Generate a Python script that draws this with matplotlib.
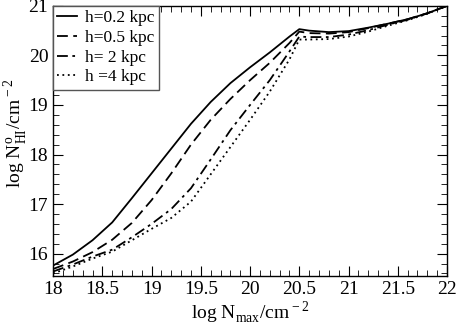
import numpy as np
import matplotlib.pyplot as plt
from matplotlib.ticker import MultipleLocator, FormatStrFormatter

plt.rcParams['font.family'] = ['Liberation Serif', 'DejaVu Serif']
plt.rcParams['mathtext.fontset'] = 'custom'
plt.rcParams['mathtext.rm'] = 'Liberation Serif'

# log N_max values
x = [18.0, 18.2, 18.4, 18.6, 18.8, 19.0, 19.2, 19.4, 19.6, 19.8, 20.0, 20.2, 20.4, 20.5,
     20.6, 20.8, 21.0, 21.2, 21.4, 21.6, 21.8, 22.0]

# log N_HI for each scale height
h02 = [15.76, 15.98, 16.27, 16.63, 17.12, 17.62, 18.12, 18.62, 19.06, 19.44, 19.76, 20.06, 20.38, 20.53,
       20.50, 20.47, 20.49, 20.56, 20.64, 20.73, 20.85, 21.00]
h05 = [15.69, 15.84, 16.03, 16.28, 16.62, 17.08, 17.62, 18.20, 18.70, 19.12, 19.50, 19.85, 20.25, 20.48,
       20.45, 20.44, 20.47, 20.55, 20.64, 20.73, 20.85, 21.00]
h2 = [15.64, 15.78, 15.94, 16.08, 16.33, 16.60, 16.90, 17.32, 17.90, 18.49, 19.00, 19.50, 20.08, 20.38,
      20.37, 20.37, 20.42, 20.51, 20.62, 20.72, 20.85, 21.00]
h4 = [15.60, 15.74, 15.90, 16.04, 16.27, 16.50, 16.72, 17.05, 17.60, 18.15, 18.70, 19.27, 19.92, 20.32,
      20.32, 20.33, 20.38, 20.48, 20.60, 20.71, 20.84, 21.00]

labels = ['h=0.2 kpc', 'h=0.5 kpc', 'h= 2 kpc', 'h =4 kpc']
styles = ['-', (0, (6, 3)), (0, (6, 2.5, 1.5, 2.5)), (0, (1, 2))]

fig = plt.figure(figsize=(4.58, 3.25), dpi=100)
ax = fig.add_axes([0.116, 0.151, 0.86, 0.831])

for y, lab, ls in zip([h02, h05, h2, h4], labels, styles):
    ax.plot(x, y, color='black', linestyle=ls, linewidth=1.3, label=lab)

ax.set_xlim(18, 22)
ax.set_ylim(15.55, 21)
ax.xaxis.set_major_locator(MultipleLocator(0.5))
ax.xaxis.set_minor_locator(MultipleLocator(0.1))
ax.yaxis.set_major_locator(MultipleLocator(1))
ax.yaxis.set_minor_locator(MultipleLocator(0.2))
ax.xaxis.set_major_formatter(FormatStrFormatter('%g'))
ax.yaxis.set_major_formatter(FormatStrFormatter('%g'))
ax.tick_params(which='both', direction='in', top=True, right=True, labelsize=14)
ax.tick_params(which='major', length=7)
ax.tick_params(which='minor', length=4)
for s in ax.spines.values():
    s.set_linewidth(1.0)

ax.set_xlabel(r'log N$_{\rm max}$/cm$^{\rm -2}$', fontsize=14, labelpad=1)
ax.set_ylabel(r'log N$_{\rm HI}^{\rm o}$/cm$^{\rm -2}$', fontsize=14)
ax.yaxis.set_label_coords(-0.058, 0.53)

leg = ax.legend(loc='upper left', fontsize=12.5, handlelength=1.1, handletextpad=0.5,
                borderaxespad=0, borderpad=0.25, labelspacing=0.2, fancybox=False,
                framealpha=1)
leg.get_frame().set_edgecolor('#555555')
leg.get_frame().set_linewidth(1.0)

fig.savefig('out.png', dpi=100)
